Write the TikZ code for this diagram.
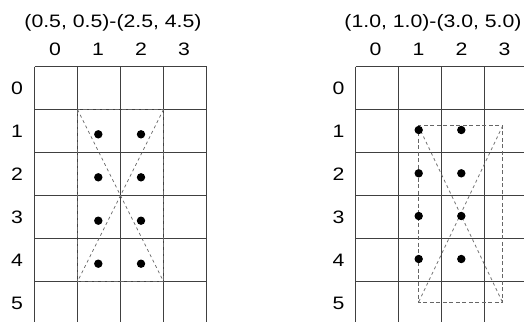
\documentclass[tikz,border=0pt]{standalone}
\usepackage{fontspec}
\setmainfont{Liberation Sans}[FakeStretch=1.18]

\begin{document}
\begin{tikzpicture}[x=1pt, y=-1pt,
  gridline/.style={line width=1pt, black!75},
  boxline/.style={line width=0.9pt, black!60, dash pattern=on 4pt off 2.5pt},
  crossline/.style={line width=0.8pt, black!55, dash pattern=on 3pt off 3pt},
  pixdot/.style={fill=black},
  lbl/.style={inner sep=0pt, font=\fontsize{18}{20}\selectfont}]
  \path[use as bounding box, clip] (0,0) rectangle (524,321);

  % left grid
  \foreach \i in {0,...,4} \draw[gridline] (34.5+43*\i,66.5) -- (34.5+43*\i,330);
  \foreach \j in {0,...,5} \draw[gridline] (34.5,66.5+43*\j) -- (206.5,66.5+43*\j);
  \node[lbl] (ltitle) at (113,23) {(0.5, 0.5)-(2.5, 4.5)};
  \foreach \i in {0,...,3} \node[lbl] (lcol\i) at (55+43*\i,49) {\i};
  \foreach \j in {0,...,5} \node[lbl] (lrow\j) at (17,88+43*\j) {\j};

  % left rectangle
  \coordinate (la) at (77.5,109.5);
  \coordinate (lb) at (163.5,109.5);
  \coordinate (lc) at (163.5,281.5);
  \coordinate (ld) at (77.5,281.5);
  \draw[crossline] (la) -- (lc);
  \draw[crossline] (lb) -- (ld);
  \draw[boxline] (la) rectangle (lc);
  \foreach \y in {134.3,177.3,220.7,263.7} {
    \fill[pixdot] (98.3,\y) circle (4.2pt);
    \fill[pixdot] (141,\y) circle (4.2pt);
  }

  % right grid
  \foreach \i in {0,...,4} \draw[gridline] (355.5+43*\i,66.5) -- (355.5+43*\i,330);
  \foreach \j in {0,...,5} \draw[gridline] (355.5,66.5+43*\j) -- (530,66.5+43*\j);
  \node[lbl] (rtitle) at (433,23) {(1.0, 1.0)-(3.0, 5.0)};
  \foreach \i in {0,...,3} \node[lbl] (rcol\i) at (375.5+43*\i,49) {\i};
  \foreach \j in {0,...,5} \node[lbl] (rrow\j) at (338.5,88+43*\j) {\j};

  % right rectangle
  \coordinate (ra) at (418.3,125.7);
  \coordinate (rb) at (502.7,125.7);
  \coordinate (rc) at (502.7,302.7);
  \coordinate (rd) at (418.3,302.7);
  \draw[crossline] (ra) -- (rc);
  \draw[crossline] (rb) -- (rd);
  \draw[boxline] (ra) rectangle (rc);
  \foreach \y in {130,173.3,216,259} {
    \fill[pixdot] (418.7,\y) circle (4.2pt);
    \fill[pixdot] (461.3,\y) circle (4.2pt);
  }
\end{tikzpicture}
\end{document}
